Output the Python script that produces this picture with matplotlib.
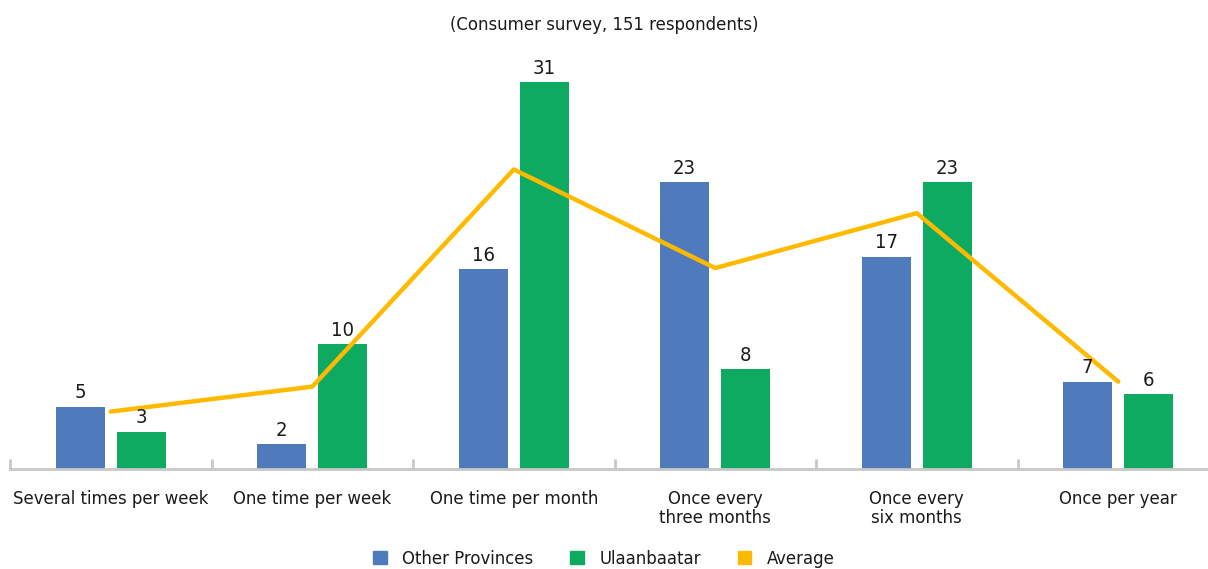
import numpy as np
import matplotlib.pyplot as plt
from matplotlib.patches import Patch

plt.rcParams['font.family'] = ['Liberation Sans Narrow', 'DejaVu Sans']
plt.rcParams['font.stretch'] = 'condensed'

# Datos
categorias = ["Several times per week", "One time per week", "One time per month",
              "Once every\nthree months", "Once every\nsix months", "Once per year"]
otras_provincias = [5, 2, 16, 23, 17, 7]
ulaanbaatar = [3, 10, 31, 8, 23, 6]
promedio = [4.6, 6.6, 24.0, 16.1, 20.5, 7.0]

azul = "#4F7BBC"
verde = "#0FAA62"
naranja = "#FFBA00"
texto = "#1a1a1a"

fig = plt.figure(figsize=(12.08, 5.69), dpi=100)
ax = fig.add_axes([10/1208, 100/569, 1209/1208, 419/569])

x = np.arange(len(categorias))
ancho = 0.243
desp = 0.152

b1 = ax.bar(x - desp, otras_provincias, ancho, color=azul)
b2 = ax.bar(x + desp, ulaanbaatar, ancho, color=verde)
ax.plot(x, promedio, color=naranja, lw=3.2, solid_capstyle='round', zorder=3)

# Etiquetas de valores
for barras, vals in [(b1, otras_provincias), (b2, ulaanbaatar)]:
    for b, v in zip(barras, vals):
        ax.text(b.get_x() + b.get_width()/2, v + 0.35, str(v), ha='center', va='bottom',
                fontsize=14.5, color=texto)

ax.set_xlim(-0.5, len(categorias) - 0.5)
ax.set_ylim(0, 33.57)
ax.set_yticks([])
ax.set_xticks(x)
ax.set_xticklabels(categorias, fontsize=13.2, color=texto, linespacing=1.05)
ax.set_xticks(np.arange(len(categorias) + 1) - 0.5, minor=True)
ax.tick_params(axis='x', which='major', length=0, pad=15)
ax.tick_params(axis='x', which='minor', direction='in', length=7, width=2, color="#c8c8c8")
for s in ['top', 'right', 'left']:
    ax.spines[s].set_visible(False)
ax.spines['bottom'].set_color("#c8c8c8")
ax.spines['bottom'].set_linewidth(2)

fig.text(0.5, 1 - 25/569, "(Consumer survey, 151 respondents)", ha='center', va='center',
         fontsize=13.2, color=texto)

handles = [Patch(color=azul), Patch(color=verde), Patch(color=naranja)]
fig.legend(handles, ["Other Provinces", "Ulaanbaatar", "Average"], loc='center',
           bbox_to_anchor=(0.5, 1 - 559/569), ncol=3, frameon=False, fontsize=13.2,
           handlelength=0.75, handleheight=0.75, columnspacing=2.0, handletextpad=0.85,
           labelcolor=texto)

plt.savefig("out.png", dpi=100)
